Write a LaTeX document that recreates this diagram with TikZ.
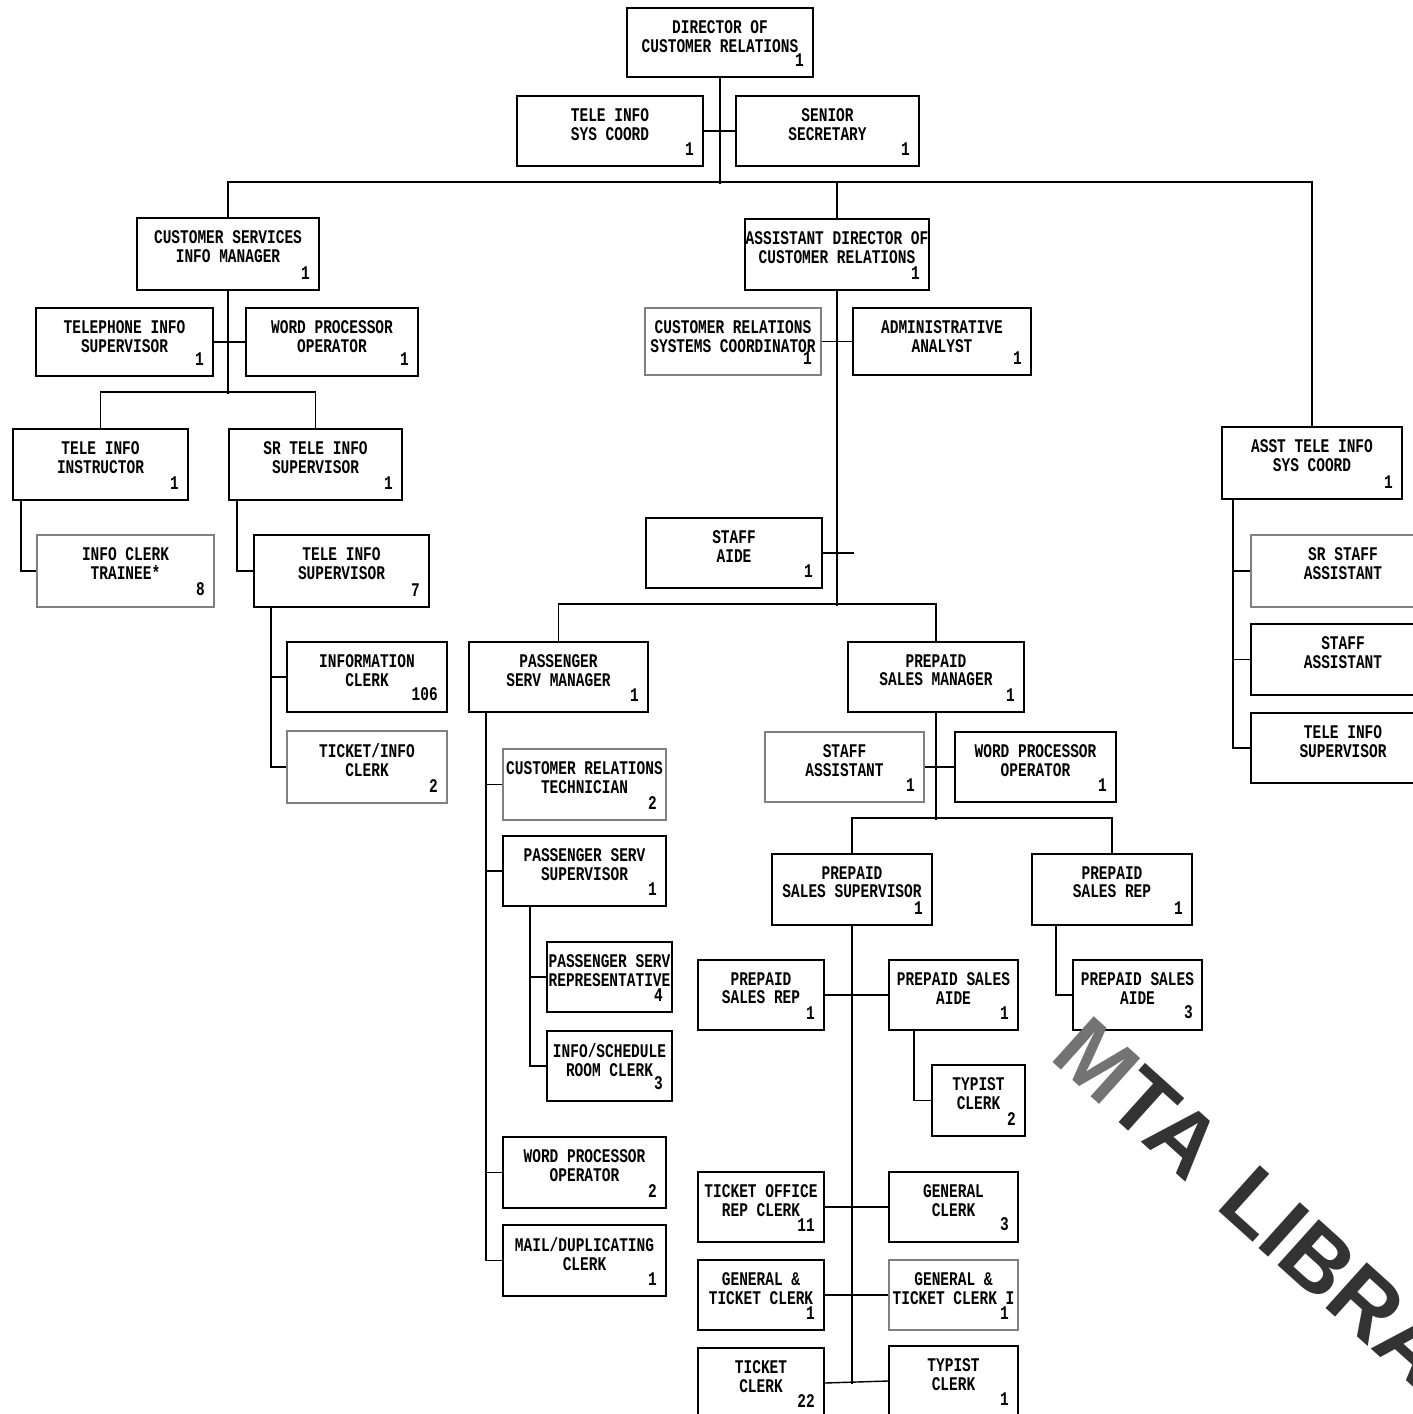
\documentclass[tikz,border=0pt]{standalone}
\usepackage{fontspec}
\newfontfamily\chartfont[FakeStretch=0.75]{Liberation Mono}
\newfontfamily\stampfont{Liberation Sans}
\usetikzlibrary{fit}

\begin{document}
\begin{tikzpicture}[x=0.02cm, y=-0.02cm, line width=0.8pt,
	box/.style={draw, line width=1pt, inner sep=0pt},
	pale/.style={box, draw=black!50},
	job/.style={label={[anchor=north, yshift=-4pt, align=center, font=\chartfont\bfseries\fontsize{11}{10.5}\selectfont]north:#1}},
	headcount/.style={label={[anchor=south east, xshift=-2pt, yshift=3pt, font=\chartfont\bfseries\fontsize{11}{10.5}\selectfont]south east:#1}},
	stamp/.style={font=\stampfont\bfseries\fontsize{51}{51}\selectfont, text=black!80, inner sep=0pt}]
\clip (0,0) rectangle (1413,1414);
% top
\node[box, fit={(627,8) (813,77)}, job={DIRECTOR OF\\CUSTOMER RELATIONS}, headcount=1] (dir) {};
\node[box, fit={(517,96) (703,166)}, job={TELE INFO\\SYS COORD}, headcount=1] (tisc) {};
\node[box, fit={(736,96) (919,166)}, job={SENIOR\\SECRETARY}, headcount=1] (sensec) {};
\node[box, fit={(137,218) (319,290)}, job={CUSTOMER SERVICES\\INFO MANAGER}, headcount=1] (csim) {};
\node[box, fit={(745,219) (929,290)}, job={ASSISTANT DIRECTOR OF\\CUSTOMER RELATIONS}, headcount=1] (adcr) {};
\node[box, fit={(1222,427) (1402,499)}, job={ASST TELE INFO\\SYS COORD}, headcount=1] (atisc) {};
% customer services
\node[box, fit={(36,308) (213,376)}, job={TELEPHONE INFO\\SUPERVISOR}, headcount=1] (tis) {};
\node[box, fit={(246,308) (418,376)}, job={WORD PROCESSOR\\OPERATOR}, headcount=1] (wpoa) {};
\node[box, fit={(13,429) (188,500)}, job={TELE INFO\\INSTRUCTOR}, headcount=1] (tii) {};
\node[box, fit={(229,429) (402,500)}, job={SR TELE INFO\\SUPERVISOR}, headcount=1] (srtis) {};
\node[pale, fit={(37,535) (214,607)}, job={INFO CLERK\\TRAINEE*}, headcount=8] (ict) {};
\node[box, fit={(254,535) (429,607)}, job={TELE INFO\\SUPERVISOR}, headcount=7] (tisv) {};
\node[box, fit={(287,642) (447,712)}, job={INFORMATION\\CLERK}, headcount=106] (ic) {};
\node[pale, fit={(287,731) (447,803)}, job={TICKET/INFO\\CLERK}, headcount=2] (tic) {};
% assistant director
\node[pale, fit={(645,308) (821,375)}, job={CUSTOMER RELATIONS\\SYSTEMS COORDINATOR}, headcount=1] (crsc) {};
\node[box, fit={(853,308) (1031,375)}, job={ADMINISTRATIVE\\ANALYST}, headcount=1] (aa) {};
\node[box, fit={(646,518) (822,588)}, job={STAFF\\AIDE}, headcount=1] (aide) {};
\node[box, fit={(469,642) (648,712)}, job={PASSENGER\\SERV MANAGER}, headcount=1] (psmgr) {};
\node[box, fit={(848,642) (1024,712)}, job={PREPAID\\SALES MANAGER}, headcount=1] (ppmgr) {};
% passenger service
\node[pale, fit={(503,749) (666,820)}, job={CUSTOMER RELATIONS\\TECHNICIAN}, headcount=2] (crt) {};
\node[box, fit={(503,836) (666,906)}, job={PASSENGER SERV\\SUPERVISOR}, headcount=1] (pss) {};
\node[box, fit={(547,942) (672,1012)}, job={PASSENGER SERV\\REPRESENTATIVE}, headcount=4] (psrep) {};
\node[box, fit={(547,1031) (672,1101)}, job={INFO/SCHEDULE\\ROOM CLERK}, headcount=3] (isrc) {};
\node[box, fit={(503,1137) (666,1208)}, job={WORD PROCESSOR\\OPERATOR}, headcount=2] (wpob) {};
\node[box, fit={(503,1225) (666,1296)}, job={MAIL/DUPLICATING\\CLERK}, headcount=1] (mail) {};
% prepaid sales
\node[pale, fit={(765,732) (924,802)}, job={STAFF\\ASSISTANT}, headcount=1] (stasst) {};
\node[box, fit={(955,732) (1116,802)}, job={WORD PROCESSOR\\OPERATOR}, headcount=1] (wpoc) {};
\node[box, fit={(772,854) (932,925)}, job={PREPAID\\SALES SUPERVISOR}, headcount=1] (ppss) {};
\node[box, fit={(1032,854) (1192,925)}, job={PREPAID\\SALES REP}, headcount=1] (ppsr) {};
\node[box, fit={(698,960) (824,1030)}, job={PREPAID\\SALES REP}, headcount=1] (psrl) {};
\node[box, fit={(889,960) (1018,1030)}, job={PREPAID SALES\\AIDE}, headcount=1] (psaide) {};
\node[box, fit={(1073,960) (1202,1030)}, job={PREPAID SALES\\AIDE}, headcount=3] (psaidr) {};
\node[box, fit={(932,1065) (1025,1136)}, job={TYPIST\\CLERK}, headcount=2] (typa) {};
\node[box, fit={(698,1172) (824,1242)}, job={TICKET OFFICE\\REP CLERK}, headcount=11] (toc) {};
\node[box, fit={(889,1172) (1018,1242)}, job={GENERAL\\CLERK}, headcount=3] (gc) {};
\node[box, fit={(698,1260) (824,1330)}, job={GENERAL \&\\TICKET CLERK}, headcount=1] (gtc) {};
\node[pale, fit={(889,1260) (1018,1330)}, job={GENERAL \&\\TICKET CLERK I}, headcount=1] (gtci) {};
\node[box, fit={(698,1348) (824,1418)}, job={TICKET\\CLERK}, headcount=22] (tc) {};
\node[box, fit={(889,1346) (1018,1416)}, job={TYPIST\\CLERK}, headcount=1] (typb) {};
% asst tele info
\node[pale, fit={(1251,535) (1435,607)}, job={SR STAFF\\ASSISTANT}] (ssa) {};
\node[box, fit={(1251,624) (1435,695)}, job={STAFF\\ASSISTANT}] (sa) {};
\node[box, fit={(1251,713) (1435,783)}, job={TELE INFO\\SUPERVISOR}] (tisr) {};

% lines
\draw (dir.south) -- ++(0,106);
\draw (tisc.east) -- (sensec.west);
\draw (csim.north) -- ++(0,-35) -| (atisc.north);
\draw (adcr.north) -- ++(0,-36);
\draw (csim.south) -- ++(0,103);
\draw (tis.east) -- (wpoa.west);
\draw (tii.north) -- ++(0,-36) -| (srtis.north);
\draw (tii.south west) ++(9,0) |- (ict.west);
\draw (srtis.south west) ++(9,0) |- (tisv.west);
\draw (tisv.south west) ++(18,0) |- (tic.west);
\draw (ic.west) -- ++(-15,0);
\draw (adcr.south) -- ++(0,315);
\draw (crsc.east) -- (aa.west);
\draw (aide.east) -- ++(31,0);
\draw (psmgr.north) -- ++(0,-37) -| (ppmgr.north);
\draw (psmgr.south west) ++(18,0) |- (mail.west);
\foreach \n in {crt,pss,wpob}
	\draw (\n.west) -- ++(-16,0);
\draw (pss.south west) ++(28,0) |- (isrc.west);
\draw (psrep.west) -- ++(-16,0);
\draw (ppmgr.south) -- ++(0,107);
\draw (stasst.east) -- (wpoc.west);
\draw (ppss.north) -- ++(0,-35) -| (ppsr.north);
\draw (ppss.south) -- ++(0,458);
\draw (psrl.east) -- (psaide.west);
\draw (toc.east) -- (gc.west);
\draw (gtc.east) -- (gtci.west);
\draw (tc.east) -- (typb.west);
\draw (psaide.south west) ++(26,0) |- (typa.west);
\draw (ppsr.south west) ++(25,0) |- (psaidr.west);
\draw (atisc.south west) ++(12,0) |- (tisr.west);
\draw (ssa.west) -- ++(-17,0);
\draw (sa.west) -- ++(-17,0);

\node[stamp, rotate=-42, anchor=base west] (lib) at (1048,1058) {{\color{black!55}M}TA\hspace{0.12em} LIBRARY};
\end{tikzpicture}
\end{document}
